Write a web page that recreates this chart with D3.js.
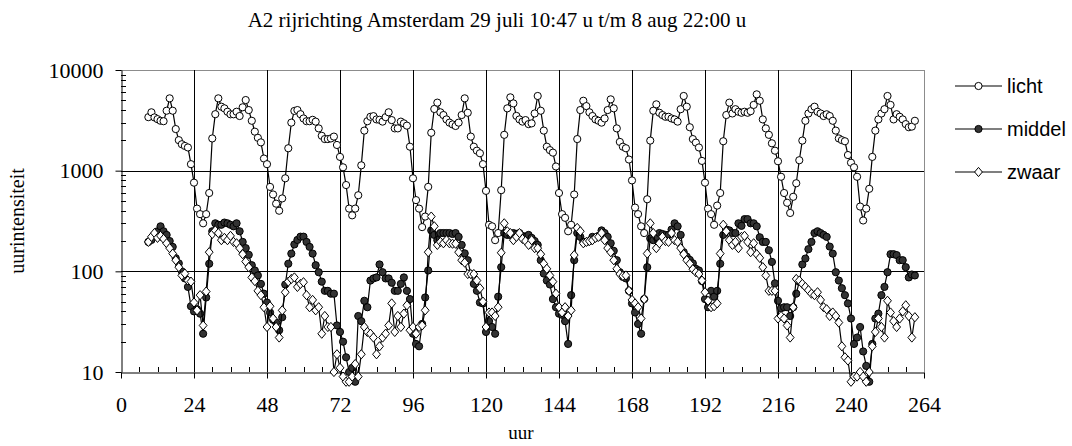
<!DOCTYPE html>
<html><head><meta charset="utf-8">
<script src="https://cdn.jsdelivr.net/npm/d3@7"></script>
<style>body{margin:0;background:#fff}svg{display:block}</style>
</head><body>
<svg id="c" width="1072" height="446"></svg>
<script>
const title = "A2 rijrichting Amsterdam 29 juli 10:47 u t/m 8 aug 22:00 u";
const xTicks = [0,24,48,72,96,120,144,168,192,216,240,264];
const yTicks = [10,100,1000,10000];
const seriesNames = ["licht","middel","zwaar"];
const firstHour = 9;
const licht = [3400,3800,3380,3250,3130,3100,3940,5230,3940,2590,2010,1830,1760,1700,1160,760,420,370,300,370,600,2090,3640,5230,
4320,4160,3850,3630,3630,3850,3490,4260,5030,4000,3130,2440,2120,1910,1320,1160,690,580,470,400,530,840,1670,3000,3920,4000,3640,3300,3100,3100,3200,
3070,2630,2220,2060,2060,2090,2180,1800,1370,1080,720,420,360,420,570,1130,2500,3100,3430,3480,3230,3200,3070,3400,3800,3180,2630,2630,3070,2950,2800,1730,840,
510,420,275,350,690,2380,4100,4740,3800,3570,3230,3000,2880,2780,3000,3570,5230,3760,2180,1730,1580,1490,1160,630,
290,280,204,240,640,2270,4160,5350,4660,3500,3230,3070,3180,2900,2950,3700,5520,3940,2500,1730,1600,1510,1100,600,
370,340,250,290,580,2060,4000,4950,4380,3800,3490,3230,3130,3000,3300,4000,5110,4160,2630,1930,1730,1670,1290,800,
430,370,280,240,520,1990,3940,4560,3760,3570,3430,3430,3300,3230,3070,4080,5520,4320,2700,2060,1900,1700,1250,760,
420,370,290,450,600,1960,3570,4740,3700,4080,3850,3760,3850,3760,3900,4500,5730,4950,3230,2630,2270,1870,1580,1240,
870,600,480,380,550,750,1270,1990,3130,3700,4080,4320,3850,3700,3490,3630,3490,3130,2500,2090,2010,1960,1430,1200,
1080,870,440,320,420,660,1370,2500,3230,3700,4080,5520,4500,3230,3640,3430,3230,2900,2700,2740,3130];
const middel = [196,205,230,250,280,250,230,200,175,135,120,100,85,70,45,40,42,38,24,55,119,250,300,290,
290,305,300,290,280,300,250,196,170,146,115,102,91,75,60,49,39,33,31,26,35,74,119,150,185,205,221,221,196,175,150,
115,98,79,64,64,60,60,29,25,20,14,10,11,8,36,32,51,44,81,85,87,117,98,85,85,77,64,64,75,87,64,53,24,
19,18,30,55,102,255,230,204,240,240,240,240,235,240,220,183,151,129,94,75,64,49,48,25,
32,28,24,56,110,240,230,230,240,235,240,225,220,230,215,200,183,129,95,81,74,53,44,38,
37,32,19,58,129,240,220,196,196,200,220,215,225,255,240,220,190,160,129,98,88,85,64,48,
39,30,24,53,110,212,204,220,240,235,230,230,260,300,280,230,155,140,130,120,106,102,80,53,
44,64,56,64,119,230,260,255,240,240,300,283,330,330,300,300,280,218,196,196,162,124,76,51,
43,44,44,36,44,60,79,117,134,166,196,240,250,240,230,220,176,150,98,81,68,58,48,34,
19,22,28,16,11.5,8,19,34,38,58,70,98,148,148,145,129,129,110,87,93,91];
const zwaar = [196,220,240,215,225,210,190,170,150,129,110,91,95,81,79,49,41,58,29,63,155,235,255,240,
204,215,204,225,196,190,170,148,125,110,87,80,64,58,44,28,45,34,28,22,41,62,79,84,87,70,75,78,58,44,52,
41,44,24,36,28,28,10,15,11,9,8,8,9,12,9,15,28,25,24,22,15,18,22,24,29,48,25,36,28,38,46,26,28,
24,28,29,41,155,350,280,183,196,190,204,190,188,188,155,129,122,94,94,94,81,68,50,28,
39,39,36,44,153,300,250,240,204,220,240,210,200,183,204,170,170,148,119,106,91,79,60,44,
39,44,36,41,145,270,250,190,196,200,204,215,220,240,204,170,155,129,106,94,90,91,64,52,
48,44,34,53,150,300,240,170,190,220,200,196,240,204,196,170,148,129,119,105,98,94,81,62,
51,44,45,48,150,290,250,204,183,196,170,220,225,196,155,190,148,136,110,91,64,64,64,34,
36,34,29,22,44,84,81,75,70,65,60,58,62,52,44,42,36,39,36,31,18,14,13,8,
9,9,10,9,8,10,18,25,34,28,22,51,39,32,28,34,40,46,36,22,35];
const hours = d3.range(firstHour, firstHour + licht.length);

const svg = d3.select("#c");
const L = 121, R = 924, T = 70, B = 372;
const x = d3.scaleLinear().domain([0,264]).range([L,R]);
const y = d3.scaleLog().domain([10,10000]).range([B,T]);

// title
svg.append("text").attr("x",497).attr("y",27).attr("text-anchor","middle")
  .attr("font-family","Liberation Serif").attr("font-size",21).text(title);

// plot border (top/right grey)
svg.append("line").attr("x1",L).attr("x2",R).attr("y1",T+0.5).attr("y2",T+0.5).attr("stroke","#8c8c8c");
svg.append("line").attr("x1",R+0.5).attr("x2",R+0.5).attr("y1",T).attr("y2",B).attr("stroke","#8c8c8c");

// gridlines
const g = svg.append("g");
g.selectAll(".vg").data(xTicks.filter(d=>d>0&&d<264)).join("line")
  .attr("x1",d=>Math.round(x(d))+0.5).attr("x2",d=>Math.round(x(d))+0.5)
  .attr("y1",T).attr("y2",B).attr("stroke","#000").attr("stroke-width",1);
g.selectAll(".hg").data(yTicks.filter(d=>d>10&&d<10000)).join("line")
  .attr("x1",L).attr("x2",R)
  .attr("y1",d=>Math.round(y(d))+0.5).attr("y2",d=>Math.round(y(d))+0.5)
  .attr("stroke","#000").attr("stroke-width",1);

// axes
const xAxis = d3.axisBottom(x).tickValues(xTicks).tickSize(6).tickPadding(18).tickSizeOuter(0);
const gx = svg.append("g").attr("transform",`translate(0,${B+0.5})`).call(xAxis);
gx.selectAll("text").attr("font-family","Liberation Serif").attr("font-size",22).attr("fill","#000");
gx.selectAll("line,path").attr("stroke","#000");
const minorX = d3.range(0,265,6).filter(d=>d%24!==0);
svg.append("g").selectAll("line").data(minorX).join("line")
  .attr("x1",d=>Math.round(x(d))+0.5).attr("x2",d=>Math.round(x(d))+0.5)
  .attr("y1",B).attr("y2",B-5).attr("stroke","#000");

const yAxis = d3.axisLeft(y).tickValues(yTicks).tickFormat(d3.format("d")).tickSize(6).tickPadding(12).tickSizeOuter(0);
const gy = svg.append("g").attr("transform",`translate(${L+0.5},0)`).call(yAxis);
gy.selectAll("text").attr("font-family","Liberation Serif").attr("font-size",22).attr("fill","#000");
gy.selectAll("line,path").attr("stroke","#000");
const minorY = [];
[10,100,1000].forEach(dec=>{for(let k=2;k<10;k++) minorY.push(dec*k);});
svg.append("g").selectAll("line").data(minorY).join("line")
  .attr("x1",L).attr("x2",L+5)
  .attr("y1",d=>Math.round(y(d))+0.5).attr("y2",d=>Math.round(y(d))+0.5).attr("stroke","#000");

// axis titles
svg.append("text").attr("x",521).attr("y",439).attr("text-anchor","middle")
  .attr("font-family","Liberation Serif").attr("font-size",19).text("uur");
svg.append("text").attr("transform","translate(24,221) rotate(-90)").attr("text-anchor","middle")
  .attr("font-family","Liberation Serif").attr("font-size",20).text("uurintensiteit");

// series
const diamond = "M0,-4.6L3.9,0L0,4.6L-3.9,0Z";
const defs = [
  {name:"licht", data:licht, shape:"circle", fill:"#fff"},
  {name:"middel", data:middel, shape:"circle", fill:"#333"},
  {name:"zwaar", data:zwaar, shape:"diamond", fill:"#fff"}
];
const line = d3.line().x(d=>x(d[0])).y(d=>y(d[1]));
defs.forEach(s=>{
  const pts = hours.map((h,i)=>[h,s.data[i]]);
  const gs = svg.append("g");
  gs.append("path").attr("d",line(pts)).attr("fill","none").attr("stroke","#000").attr("stroke-width",1.2);
  if(s.shape==="circle"){
    gs.selectAll("circle").data(pts).join("circle").attr("cx",d=>x(d[0])).attr("cy",d=>y(d[1]))
      .attr("r",3.6).attr("fill",s.fill).attr("stroke","#000").attr("stroke-width",1);
  } else {
    gs.selectAll("path.m").data(pts).join("path").attr("class","m").attr("d",diamond)
      .attr("transform",d=>`translate(${x(d[0])},${y(d[1])})`)
      .attr("fill",s.fill).attr("stroke","#000").attr("stroke-width",1);
  }
});

// legend
const leg = svg.append("g");
defs.forEach((s,i)=>{
  const yy = 86 + i*43;
  leg.append("line").attr("x1",955).attr("x2",1002).attr("y1",yy).attr("y2",yy).attr("stroke","#000").attr("stroke-width",1.2);
  if(s.shape==="circle") leg.append("circle").attr("cx",978.5).attr("cy",yy).attr("r",3.6).attr("fill",s.fill).attr("stroke","#000");
  else leg.append("path").attr("d",diamond).attr("transform",`translate(978.5,${yy})`).attr("fill",s.fill).attr("stroke","#000");
  leg.append("text").attr("x",1007).attr("y",yy+7).attr("font-family","Liberation Sans").attr("font-size",20).text(s.name);
});
</script>
</body></html>
